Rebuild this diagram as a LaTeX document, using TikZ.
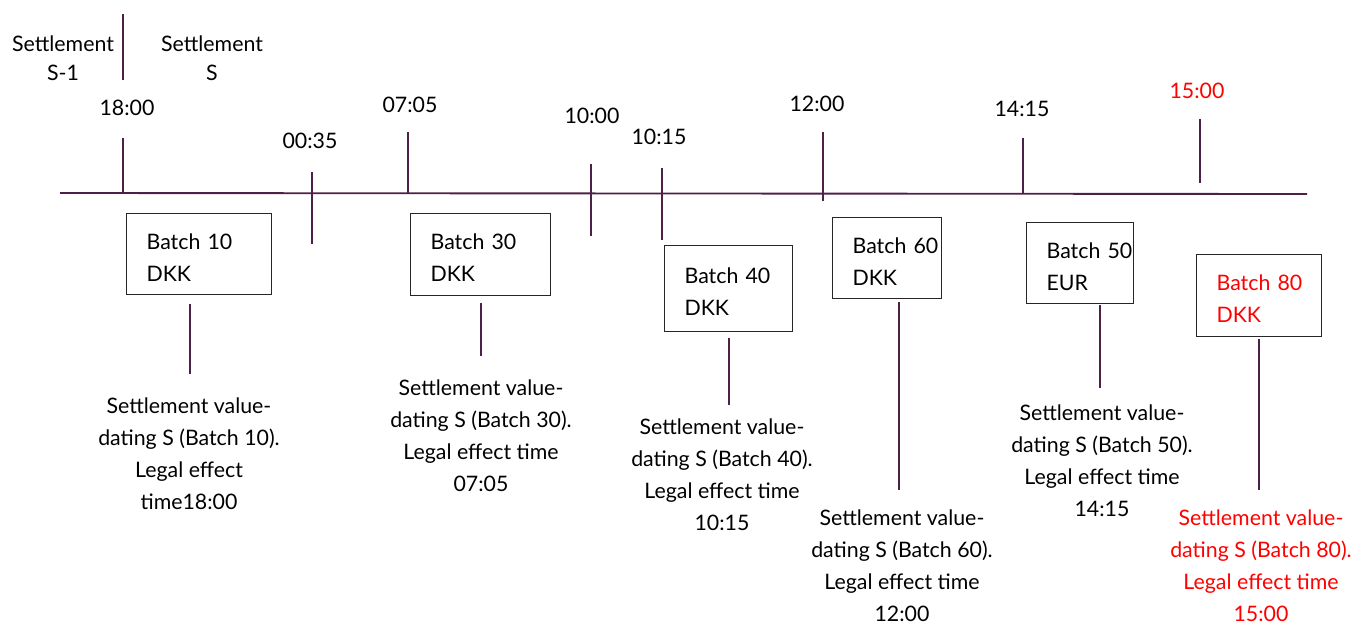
\documentclass[tikz,border=0pt]{standalone}
\usepackage{fontspec}
\setmainfont{Lato}
\usetikzlibrary{positioning,calc}

\definecolor{plum}{RGB}{78,32,72}

\begin{document}
\begin{tikzpicture}[x=0.75pt,y=-0.75pt,font=\fontsize{16}{24}\selectfont]
    \tikzstyle{line}=[draw=plum,line width=1.4pt]
    \tikzstyle{batch}=[draw=black!85,line width=0.9pt,anchor=north west,align=left,inner xsep=15pt,inner ysep=0pt,
        execute at begin node=\rule{0pt}{16.5pt}]
    \tikzstyle{desc}=[align=center,inner sep=0pt]
    \tikzstyle{settle}=[align=center,inner sep=0pt,font=\fontsize{16}{22}\selectfont]
    \tikzstyle{hot}=[text=red]

\useasboundingbox (0,0) rectangle (1356,625);

% period split
\node[settle] (s1) at (63,58.5) {Settlement\\S-1};
\node[settle] (s0) at (212,58.5) {Settlement\\S};
\draw[line] (123,14) -- (123,80);

% time axis
\draw[line] (60,193) -- (1307,194);
\foreach \n/\x/\ya/\yb/\lx/\ly/\t in {a/123/138/193/127/115/18:00, b/312/172/244/310/148/00:35,
    c/408/132/193/410/112/07:05, d/591/164/236/592/123/10:00, e/662/168/240/659/144/10:15,
    f/823/132/201/817/111/12:00, g/1023/138/193/1022/116/14:15}{
\draw[line] (\x,\ya) -- (\x,\yb);
\node[anchor=base] (t\n) at (\lx,\ly) {\t};
};
\draw[line] (1200,119) -- (1200,183);
\node[anchor=base,hot] (th) at (1197,98) {15:00};

% batches
\node[batch,text width=78.75pt,minimum height=60.75pt] (b10) at (126,213) {Batch~10\\DKK};
\node[batch,text width=75pt,minimum height=61.5pt] (b30) at (410,213) {Batch~30\\DKK};
\node[batch,text width=66pt,minimum height=64.5pt] (b40) at (664,245) {Batch~40\\DKK};
\node[batch,text width=51.75pt,minimum height=60.75pt] (b60) at (832,217) {Batch~60\\DKK};
\node[batch,text width=50.25pt,minimum height=60.75pt] (b50) at (1026,222) {Batch~50\\EUR};
\node[batch,text width=63.75pt,minimum height=61.5pt,hot] (b80) at (1196,254) {Batch~80\\DKK};

\node[desc] (d10) at (189,453.5) {Settlement value-\\dating S (Batch 10).\\Legal effect\\time18:00};
\node[desc] (d30) at (481,435.5) {Settlement value-\\dating S (Batch 30).\\Legal effect time\\07:05};
\node[desc] (d40) at (722,474.5) {Settlement value-\\dating S (Batch 40).\\Legal effect time\\10:15};
\node[desc] (d60) at (902,566) {Settlement value-\\dating S (Batch 60).\\Legal effect time\\12:00};
\node[desc] (d50) at (1102,460.5) {Settlement value-\\dating S (Batch 50).\\Legal effect time\\14:15};
\node[desc,hot] (d80) at (1261,566) {Settlement value-\\dating S (Batch 80).\\Legal effect time\\15:00};

\foreach \b/\dx/\s/\e in {10/-9.5/9/23, 30/0/7/23, 40/0/6/13, 60/11.5/3/19.5, 50/19.5/1/16, 80/0/2/19.5}{
\draw[line] ($(b\b.south)+(\dx,\s)$) -- ($(b\b.south |- d\b.north)+(\dx,-\e)$);
};
\end{tikzpicture}
\end{document}
